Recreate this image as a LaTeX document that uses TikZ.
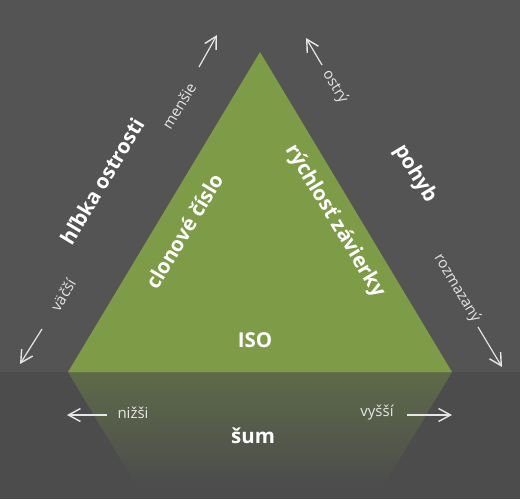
\documentclass[tikz,border=0pt]{standalone}
\usepackage{fontspec}
\setmainfont{Open Sans}
\usetikzlibrary{arrows.meta}
\definecolor{bgtop}{RGB}{84,84,84}
\definecolor{bgbot}{RGB}{76,76,76}
\definecolor{tri}{RGB}{126,156,72}
\definecolor{refl}{RGB}{94,106,73}
\definecolor{lbl}{RGB}{230,230,230}
\tikzset{
  big/.style={text=white, font=\bfseries\fontsize{20.5}{24}\selectfont, inner sep=0pt},
  small/.style={text=lbl, font=\fontsize{15}{18}\selectfont, inner sep=0pt},
  arr/.style={draw=lbl, line width=1.2pt, -{Straight Barb[length=12pt,width=13pt,line width=1.4pt]}},
}
\begin{document}
\begin{tikzpicture}[x=1pt,y=-1pt]
\useasboundingbox (0,0) rectangle (520,499);
% background
\fill[bgtop] (0,0) rectangle (520,372);
\fill[bgbot] (0,372) rectangle (520,499);
% reflection
\begin{scope}
  \clip (68,372) -- (452,372) -- (260,692) -- cycle;
  \shade[top color=refl, bottom color=bgbot] (0,372) rectangle (520,488);
\end{scope}
% triangle
\fill[tri] (260,52) -- (452,372) -- (68,372) -- cycle;
% main labels
\node[big, rotate=59] (depth) at (102,181) {hľbka ostrosti};
\node[big, rotate=59] (aperture) at (184,231) {clonové číslo};
\node[big, rotate=-59] (shutter) at (335,221) {rýchlosť závierky};
\node[big, rotate=-59] (motion) at (415,174) {pohyb};
\node[big] (iso) at (255,340) {ISO};
\node[big] (noise) at (253,436) {šum};
% small labels
\node[small, rotate=59] (smaller) at (179,106) {menšie};
\node[small, rotate=59] (larger) at (63,295) {väčší};
\node[small, rotate=-59] (sharp) at (335,87) {ostrý};
\node[small, rotate=-59] (blurred) at (457,288) {rozmazaný};
\node[small] (lower) at (133,413) {nižši};
\node[small] (higher) at (377,413) {vyšší};
% arrows
\coordinate (a1s) at (199,67);  \coordinate (a1e) at (217,35);
\coordinate (a2s) at (42,329);  \coordinate (a2e) at (20,364);
\coordinate (a3s) at (322,65);  \coordinate (a3e) at (306,38);
\coordinate (a4s) at (478,327); \coordinate (a4e) at (502,367);
\coordinate (a5s) at (107,415); \coordinate (a5e) at (67,415);
\coordinate (a6s) at (407,415); \coordinate (a6e) at (452,415);
\draw[arr] (a1s) -- (a1e);
\draw[arr] (a2s) -- (a2e);
\draw[arr] (a3s) -- (a3e);
\draw[arr] (a4s) -- (a4e);
\draw[arr] (a5s) -- (a5e);
\draw[arr] (a6s) -- (a6e);
\end{tikzpicture}
\end{document}
